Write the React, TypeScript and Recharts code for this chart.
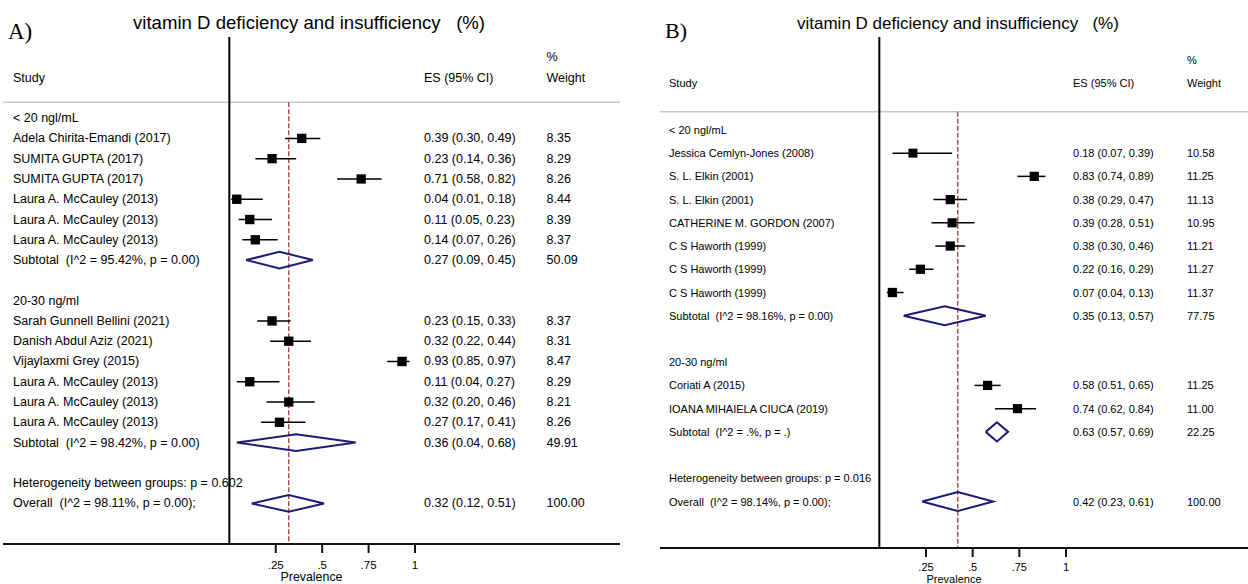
import React from "react";
import { ComposedChart, Scatter, XAxis, YAxis, ErrorBar, ReferenceLine } from "recharts";

const SANS = '"Liberation Sans", Arial, sans-serif';
const SERIF = '"Liberation Serif", "Times New Roman", serif';
const NAVY = "#1b1b78";
const RED = "#a33a3a";
const TITLE = "vitamin D deficiency and insufficiency   (%)";
const xTicks = [0.25, 0.5, 0.75, 1];

// ---- Panel A data ----
const groupsA = ["< 20 ngl/mL", "20-30 ng/ml"];
const studiesA = [
  "Adela Chirita-Emandi (2017)", "SUMITA GUPTA (2017)", "SUMITA GUPTA (2017)",
  "Laura A. McCauley (2013)", "Laura A. McCauley (2013)", "Laura A. McCauley (2013)",
  "Sarah Gunnell Bellini (2021)", "Danish Abdul Aziz (2021)", "Vijaylaxmi Grey (2015)",
  "Laura A. McCauley (2013)", "Laura A. McCauley (2013)", "Laura A. McCauley (2013)",
];
const studyGroupA = [0, 0, 0, 0, 0, 0, 1, 1, 1, 1, 1, 1];
const esA = [0.39, 0.23, 0.71, 0.04, 0.11, 0.14, 0.23, 0.32, 0.93, 0.11, 0.32, 0.27];
const loA = [0.30, 0.14, 0.58, 0.01, 0.05, 0.07, 0.15, 0.22, 0.85, 0.04, 0.20, 0.17];
const hiA = [0.49, 0.36, 0.82, 0.18, 0.23, 0.26, 0.33, 0.44, 0.97, 0.27, 0.46, 0.41];
const weightA = [8.35, 8.29, 8.26, 8.44, 8.39, 8.37, 8.37, 8.31, 8.47, 8.29, 8.21, 8.26];
const subLabelsA = ["Subtotal  (I^2 = 95.42%, p = 0.00)", "Subtotal  (I^2 = 98.42%, p = 0.00)"];
const subEsA = [0.27, 0.36];
const subLoA = [0.09, 0.04];
const subHiA = [0.45, 0.68];
const subWeightA = [50.09, 49.91];
const hetA = "Heterogeneity between groups: p = 0.602";
const overallLabelA = "Overall  (I^2 = 98.11%, p = 0.00);";
const overallA = [0.32, 0.12, 0.51];
const overallWeightA = 100.0;

// ---- Panel B data ----
const groupsB = ["< 20 ngl/mL", "20-30 ng/ml"];
const studiesB = [
  "Jessica Cemlyn-Jones (2008)", "S. L. Elkin (2001)", "S. L. Elkin (2001)",
  "CATHERINE M. GORDON (2007)", "C S Haworth (1999)", "C S Haworth (1999)",
  "C S Haworth (1999)", "Coriati A (2015)", "IOANA MIHAIELA CIUCA (2019)",
];
const studyGroupB = [0, 0, 0, 0, 0, 0, 0, 1, 1];
const esB = [0.18, 0.83, 0.38, 0.39, 0.38, 0.22, 0.07, 0.58, 0.74];
const loB = [0.07, 0.74, 0.29, 0.28, 0.30, 0.16, 0.04, 0.51, 0.62];
const hiB = [0.39, 0.89, 0.47, 0.51, 0.46, 0.29, 0.13, 0.65, 0.84];
const weightB = [10.58, 11.25, 11.13, 10.95, 11.21, 11.27, 11.37, 11.25, 11.0];
const subLabelsB = ["Subtotal  (I^2 = 98.16%, p = 0.00)", "Subtotal  (I^2 = .%, p = .)"];
const subEsB = [0.35, 0.63];
const subLoB = [0.13, 0.57];
const subHiB = [0.57, 0.69];
const subWeightB = [77.75, 22.25];
const hetB = "Heterogeneity between groups: p = 0.016";
const overallLabelB = "Overall  (I^2 = 98.14%, p = 0.00);";
const overallB = [0.42, 0.23, 0.61];
const overallWeightB = 100.0;

type Row = {
  y: number; kind: string; label: string;
  es?: number; lo?: number; hi?: number; w?: number;
};

// lay the forest plot out row by row: group header, studies, subtotal, blank
function buildRows(groups: string[], studies: string[], studyGroup: number[],
  es: number[], lo: number[], hi: number[], w: number[],
  subLabels: string[], subEs: number[], subLo: number[], subHi: number[], subW: number[],
  het: string, overallLabel: string, overall: number[], overallW: number): Row[] {
  const rows: Row[] = [];
  let y = 0;
  groups.forEach((g, gi) => {
    rows.push({ y: y++, kind: "group", label: g });
    studies.forEach((s, i) => {
      if (studyGroup[i] !== gi) return;
      rows.push({ y: y++, kind: "study", label: s, es: es[i], lo: lo[i], hi: hi[i], w: w[i] });
    });
    rows.push({ y: y++, kind: "sub", label: subLabels[gi], es: subEs[gi], lo: subLo[gi], hi: subHi[gi], w: subW[gi] });
    y++;
  });
  rows.push({ y: y++, kind: "het", label: het });
  rows.push({ y: y++, kind: "overall", label: overallLabel, es: overall[0], lo: overall[1], hi: overall[2], w: overallW });
  return rows;
}

const rowsA = buildRows(groupsA, studiesA, studyGroupA, esA, loA, hiA, weightA,
  subLabelsA, subEsA, subLoA, subHiA, subWeightA, hetA, overallLabelA, overallA, overallWeightA);
const rowsB = buildRows(groupsB, studiesB, studyGroupB, esB, loB, hiB, weightB,
  subLabelsB, subEsB, subLoB, subHiB, subWeightB, hetB, overallLabelB, overallB, overallWeightB);

const fmtTick = (v: number) => (v === 1 ? "1" : String(v).replace(/^0/, ""));

type PanelProps = {
  rows: Row[]; left: number; width: number; xDomain: [number, number]; yMax: number;
  fontSize: number; cols: number[]; boxBase: number; axisH: number; labelOffset: number;
  tickFont: number; tickMargin: number; labelFont: number; overallEs: number;
};

function ForestPanel(p: PanelProps) {
  const studies = p.rows.filter(r => r.kind === "study").map(r => ({
    x: r.es!, y: r.y, w: r.w!, err: [r.es! - r.lo!, r.hi! - r.es!],
  }));
  const maxW = Math.max(...studies.map(s => s.w));
  const diamonds = p.rows.filter(r => r.kind === "sub" || r.kind === "overall").map(r => [
    { x: r.lo!, y: r.y }, { x: r.es!, y: r.y - 0.41 }, { x: r.hi!, y: r.y },
    { x: r.es!, y: r.y + 0.41 }, { x: r.lo!, y: r.y },
  ]);
  const yTicks = [-3, -2, ...p.rows.map(r => r.y)];
  const txt = { fontFamily: SANS, fontSize: p.fontSize, fill: "#000", dominantBaseline: "central" as const, style: { whiteSpace: "pre" as const } };

  const RowTick = (props: any) => {
    const { y, payload } = props;
    const v = payload.value;
    if (v === -3) return <text x={p.cols[2]} y={y} {...txt}>%</text>;
    if (v === -2) return (
      <g>
        <text x={p.cols[0]} y={y} {...txt}>Study</text>
        <text x={p.cols[1]} y={y} {...txt}>ES (95% CI)</text>
        <text x={p.cols[2]} y={y} {...txt}>Weight</text>
      </g>
    );
    const r = p.rows.find(rr => rr.y === v);
    if (!r) return <g />;
    return (
      <g>
        <text x={p.cols[0]} y={y} {...txt}>{r.label}</text>
        {r.es !== undefined && (
          <text x={p.cols[1]} y={y} {...txt}>{`${r.es.toFixed(2)} (${r.lo!.toFixed(2)}, ${r.hi!.toFixed(2)})`}</text>
        )}
        {r.w !== undefined && <text x={p.cols[2]} y={y} {...txt}>{r.w.toFixed(2)}</text>}
      </g>
    );
  };

  const BoxShape = (props: any) => {
    const { cx, cy, payload } = props;
    const s = p.boxBase * Math.sqrt(payload.w / maxW);
    return <rect x={cx - s / 2} y={cy - s / 2} width={s} height={s} fill="#000" />;
  };

  return (
    <div style={{ position: "absolute", left: p.left, top: 0 }}>
      <ComposedChart width={p.width} height={584} margin={{ top: 37, right: 0, bottom: 0, left: 0 }}>
        <XAxis type="number" dataKey="x" domain={p.xDomain} allowDataOverflow ticks={xTicks}
          tickFormatter={fmtTick} tickSize={9} tickMargin={p.tickMargin} height={p.axisH}
          axisLine={{ stroke: "#111", strokeWidth: 2 }} tickLine={{ stroke: "#111", strokeWidth: 2 }}
          tick={{ fill: "#000", fontSize: p.tickFont, fontFamily: SANS }}
          label={{ value: "Prevalence", position: "insideBottom", offset: p.labelOffset, fill: "#000", fontSize: p.labelFont, fontFamily: SANS }} />
        <YAxis type="number" dataKey="y" domain={[-4, p.yMax]} allowDataOverflow reversed
          ticks={yTicks} interval={0} width={1} axisLine={false} tickLine={false} tick={<RowTick />} />
        <ReferenceLine y={-0.78} stroke="#c8c8c8" strokeWidth={1.5} />
        <ReferenceLine x={0} stroke="#000" strokeWidth={2} />
        <ReferenceLine segment={[{ x: p.overallEs, y: -0.78 }, { x: p.overallEs, y: p.yMax }]}
          stroke={RED} strokeWidth={1.3} strokeDasharray="5 2" />
        {diamonds.map((d, i) => (
          <Scatter key={i} data={d} line={{ stroke: NAVY, strokeWidth: 2 }} lineType="joint"
            shape={() => <g />} isAnimationActive={false} />
        ))}
        <Scatter data={studies} shape={<BoxShape />} isAnimationActive={false}>
          <ErrorBar dataKey="err" direction="x" width={0} stroke="#000" strokeWidth={1.5} isAnimationActive={false} />
        </Scatter>
      </ComposedChart>
    </div>
  );
}

export default function App() {
  return (
    <div style={{ position: "absolute", left: 0, top: 0, width: 1248, height: 584, background: "#fff", overflow: "hidden" }}>
      <ForestPanel rows={rowsA} left={2} width={618} xDomain={[-1.219, 2.104]} yMax={21}
        fontSize={12.5} cols={[11, 422, 544.5]} boxBase={9.4} axisH={40} labelOffset={3}
        tickFont={11.5} tickMargin={8} labelFont={12.4} overallEs={overallA[0]} />
      <ForestPanel rows={rowsB} left={659} width={589} xDomain={[-1.175, 1.975]} yMax={18}
        fontSize={11} cols={[10, 414, 528]} boxBase={9.3} axisH={36} labelOffset={1}
        tickFont={11} tickMargin={6} labelFont={11} overallEs={overallB[0]} />
      <svg width={1248} height={584} style={{ position: "absolute", left: 0, top: 0, pointerEvents: "none" }}>
        <text x={8} y={39} fontFamily={SERIF} fontSize={23} fill="#000">A)</text>
        <text x={133} y={29} fontFamily={SANS} fontSize={18.6} fill="#000" style={{ whiteSpace: "pre" }}>{TITLE}</text>
        <text x={665} y={38} fontFamily={SERIF} fontSize={22} fill="#000">B)</text>
        <text x={797} y={29} fontFamily={SANS} fontSize={17} fill="#000" style={{ whiteSpace: "pre" }}>{TITLE}</text>
      </svg>
    </div>
  );
}
